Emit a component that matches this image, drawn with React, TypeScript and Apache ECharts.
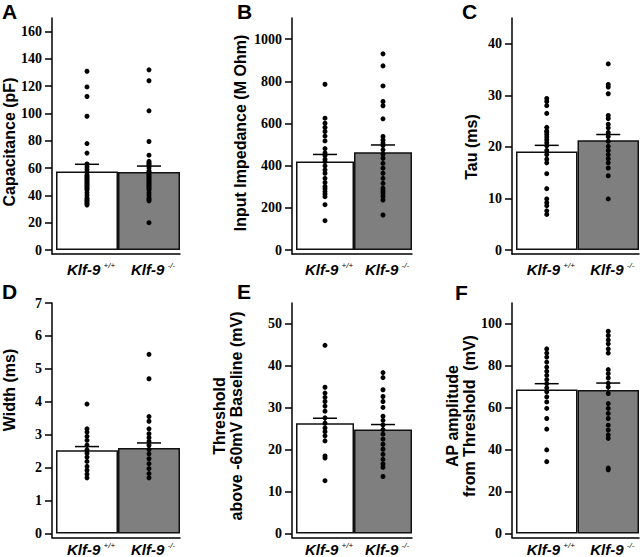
import React, { useEffect, useRef } from "react";
import * as echarts from "echarts";

// ---- data ----
const GENE = "Klf-9";
const GENOTYPES = ["+/+", "-/-"];

const capacitanceWT = [131, 119.5, 112.5, 98, 78, 71, 63, 61, 59, 57, 55, 54, 53, 52, 51, 50, 49, 48, 47, 46, 45, 44, 42, 40, 38, 37, 36, 35, 34, 33];
const capacitanceKO = [132, 124, 102, 79.5, 69.5, 65, 64, 63, 62, 60, 58, 57, 56, 55, 54, 53, 52, 51, 50, 49, 48, 47, 46, 45, 44, 42, 40, 38, 37, 36, 20];
const capacitanceMean = [57.5, 57.2];
const capacitanceSem = [5.3, 4.3];
const capacitanceTicks = [0, 20, 40, 60, 80, 100, 120, 140, 160];
const capacitanceMax = 170;

const impedanceWT = [786, 625, 601, 581, 562, 540, 517, 481, 460, 448, 430, 419, 399, 380, 364, 340, 320, 301, 290, 277, 265, 253, 215, 139];
const impedanceKO = [930, 873, 778, 704, 684, 622, 538, 522, 508, 495, 475, 454, 435, 411, 388, 364, 340, 316, 293, 280, 269, 255, 237, 166];
const impedanceMean = [420, 464];
const impedanceSem = [33, 34];
const impedanceTicks = [0, 200, 400, 600, 800, 1000];
const impedanceMax = 1100;

const tauWT = [29.4, 28.8, 28, 26.5, 23.8, 23.1, 22.9, 22.4, 21.9, 21.4, 20.8, 20.2, 19.3, 18.5, 17.6, 16.9, 14.8, 11.9, 9.9, 9.2, 8.6, 7.6, 6.9];
const tauKO = [36.1, 32.1, 31.6, 30.3, 26.1, 25.5, 24.4, 23.7, 22.8, 22, 21.1, 20.1, 19.3, 18.5, 17.7, 16.9, 15.9, 14.4, 9.9];
const tauMean = [19.1, 21.3];
const tauSem = [1.2, 1.1];
const tauTicks = [0, 10, 20, 30, 40];
const tauMax = 45;

const widthWT = [3.93, 3.18, 3.08, 2.95, 2.83, 2.68, 2.54, 2.44, 2.32, 2.19, 2.04, 1.92, 1.8, 1.69];
const widthKO = [5.44, 4.7, 3.55, 3.41, 3.18, 3.03, 2.91, 2.8, 2.68, 2.55, 2.42, 2.27, 2.12, 1.97, 1.82, 1.69];
const widthMean = [2.53, 2.6];
const widthSem = [0.11, 0.15];
const widthTicks = [0, 1, 2, 3, 4, 5, 6, 7];
const widthMax = 7;

const thresholdWT = [44.9, 34.9, 33.5, 32.5, 31.5, 30.4, 29.2, 27.6, 26.3, 25.2, 24.3, 23.3, 22.1, 18.5, 18, 12.6];
const thresholdKO = [38.4, 37.2, 34.3, 32.7, 31.5, 30.1, 28, 27, 25.9, 24.8, 23.7, 22.5, 21.3, 20.1, 18.9, 17.7, 16.6, 15.8, 13.6];
const thresholdMean = [26.3, 24.8];
const thresholdSem = [1.2, 1.2];
const thresholdTicks = [0, 10, 20, 30, 40, 50];
const thresholdMax = 55;

const amplitudeWT = [88.1, 86.1, 84.2, 81.8, 79.4, 77.4, 75.5, 73.4, 71.5, 69.5, 67.6, 65.2, 62.8, 59.7, 54.9, 49.8, 39.9, 34.3];
const amplitudeKO = [96.5, 94.5, 92.4, 90.5, 88.1, 86.1, 78.2, 76.3, 74.2, 71.8, 69.9, 66.8, 62, 59.7, 57.3, 54.9, 51.7, 49.4, 47, 45.4, 31.2, 30.4];
const amplitudeMean = [68.7, 68.5];
const amplitudeSem = [2.8, 3.3];
const amplitudeTicks = [0, 20, 40, 60, 80, 100];
const amplitudeMax = 110;

const panels = [
  { letter: "A", name: "Capacitance (pF)", wt: capacitanceWT, ko: capacitanceKO, mean: capacitanceMean, sem: capacitanceSem, ticks: capacitanceTicks, max: capacitanceMax },
  { letter: "B", name: "Input Impedance (M Ohm)", wt: impedanceWT, ko: impedanceKO, mean: impedanceMean, sem: impedanceSem, ticks: impedanceTicks, max: impedanceMax },
  { letter: "C", name: "Tau (ms)", wt: tauWT, ko: tauKO, mean: tauMean, sem: tauSem, ticks: tauTicks, max: tauMax },
  { letter: "D", name: "Width (ms)", wt: widthWT, ko: widthKO, mean: widthMean, sem: widthSem, ticks: widthTicks, max: widthMax },
  { letter: "E", name: "Threshold\nabove -60mV Baseline (mV)", wt: thresholdWT, ko: thresholdKO, mean: thresholdMean, sem: thresholdSem, ticks: thresholdTicks, max: thresholdMax },
  { letter: "F", name: "AP amplitude\nfrom Threshold  (mV)", wt: amplitudeWT, ko: amplitudeKO, mean: amplitudeMean, sem: amplitudeSem, ticks: amplitudeTicks, max: amplitudeMax },
];

// ---- layout / style ----
const GAP = 4;
const layout = [
  { left: 52, top: 18, width: 128, height: 236, letter: [2, 1], nameAt: [9, 142], labelMargin: 7 },
  { left: 292, top: 18, width: 120, height: 236, letter: [237, 1], nameAt: [240, 133], labelMargin: 7 },
  { left: 512, top: 18, width: 127, height: 236, letter: [462, 1], nameAt: [471, 147], labelMargin: 7 },
  { left: 52, top: 303, width: 128, height: 235, letter: [2, 281], nameAt: [9, 390], labelMargin: 4 },
  { left: 292, top: 303, width: 120, height: 235, letter: [237, 281], nameAt: [228, 416], labelMargin: 4 },
  { left: 512, top: 303, width: 127, height: 235, letter: [455, 282], nameAt: [461, 416], labelMargin: 4 },
];

const AXIS_COLOR = "#000";
const SANS = "Liberation Sans";
const SERIF = "Liberation Serif";

function buildOption() {
  const grid: any[] = [];
  const xAxis: any[] = [];
  const yAxis: any[] = [];
  const series: any[] = [];
  const graphic: any[] = [];

  panels.forEach((p, i) => {
    const L = layout[i];
    grid.push({ left: L.left, top: L.top, width: L.width, height: L.height, containLabel: false });
    xAxis.push({
      gridIndex: i,
      type: "value",
      min: (-2 * GAP) / (L.width - GAP),
      max: 2,
      axisLine: { show: true, onZero: false, lineStyle: { color: AXIS_COLOR, width: 1.5 } },
      axisTick: { show: false },
      splitLine: { show: false },
      axisLabel: {
        customValues: [0.5, 1.5],
        margin: L.labelMargin,
        padding: [0, 0, 0, 8],
        formatter: (v: number) => `{g|${GENE}} {s|${GENOTYPES[v < 1 ? 0 : 1]}}`,
        rich: {
          g: { fontFamily: SANS, fontStyle: "italic", fontWeight: "bold", fontSize: 15, color: "#000", lineHeight: 16 },
          s: { fontFamily: SANS, fontStyle: "italic", fontSize: 8, color: "#000", verticalAlign: "top", lineHeight: 16, padding: [0, 0, 6, 0] },
        },
      },
    });
    yAxis.push({
      gridIndex: i,
      type: "value",
      min: (-p.max * GAP) / (L.height - GAP),
      max: p.max,
      axisLine: { show: true, onZero: false, lineStyle: { color: AXIS_COLOR, width: 1.5 } },
      axisTick: { show: true, length: 7, customValues: p.ticks, lineStyle: { color: AXIS_COLOR, width: 1.5 } },
      splitLine: { show: false },
      axisLabel: {
        customValues: p.ticks,
        margin: 10,
        formatter: (v: number) => String(v),
        fontFamily: SERIF,
        fontWeight: "bold",
        fontSize: 14,
        color: "#000",
      },
    });
    series.push({
      type: "bar",
      xAxisIndex: i,
      yAxisIndex: i,
      barWidth: "100%",
      clip: false,
      silent: true,
      itemStyle: { borderColor: "#111", borderWidth: 1.5 },
      data: p.mean.map((m, k) => ({ value: [k + 0.5, m], itemStyle: { color: k === 0 ? "#ffffff" : "#7f7f7f" } })),
    });
    series.push({
      type: "scatter",
      xAxisIndex: i,
      yAxisIndex: i,
      symbolSize: 5,
      silent: true,
      itemStyle: { color: "#000", opacity: 1 },
      data: [...p.wt.map((v) => [0.5, v]), ...p.ko.map((v) => [1.5, v])],
    });
    series.push({
      type: "custom",
      xAxisIndex: i,
      yAxisIndex: i,
      silent: true,
      data: p.mean.map((m, k) => [k + 0.5, m, p.sem[k]]),
      encode: { x: 0, y: 1 },
      renderItem: (params: any, api: any) => {
        const x = api.value(0);
        const m = api.value(1);
        const s = api.value(2);
        const hi = api.coord([x, m + s]);
        const lo = api.coord([x, m - s]);
        const hw = 12;
        const st = { stroke: "#000", lineWidth: 1.5 };
        return {
          type: "group",
          children: [
            { type: "line", shape: { x1: hi[0] - hw, y1: hi[1], x2: hi[0] + hw, y2: hi[1] }, style: st },
            { type: "line", shape: { x1: lo[0] - hw, y1: lo[1], x2: lo[0] + hw, y2: lo[1] }, style: st },
            { type: "line", shape: { x1: hi[0], y1: hi[1], x2: lo[0], y2: lo[1] }, style: st },
          ],
        };
      },
    });
    graphic.push({
      type: "text",
      x: L.letter[0],
      y: L.letter[1],
      style: { text: p.letter, fontFamily: SANS, fontWeight: "bold", fontSize: 21, fill: "#000", textVerticalAlign: "top" },
    });
    graphic.push({
      type: "text",
      x: L.nameAt[0],
      y: L.nameAt[1],
      rotation: Math.PI / 2,
      style: {
        text: p.name,
        fontFamily: SANS,
        fontWeight: "bold",
        fontSize: 16,
        fill: "#000",
        textAlign: "center",
        textVerticalAlign: "middle",
        lineHeight: 17,
      },
    });
  });

  return { animation: false, backgroundColor: "#fff", grid, xAxis, yAxis, series, graphic };
}

export default function App() {
  const ref = useRef<HTMLDivElement>(null);
  useEffect(() => {
    if (!ref.current) return;
    const chart = echarts.init(ref.current, null, { renderer: "svg" });
    chart.setOption(buildOption() as any);
    return () => chart.dispose();
  }, []);
  return <div ref={ref} style={{ width: 640, height: 557, position: "absolute", left: 0, top: 0 }} />;
}
